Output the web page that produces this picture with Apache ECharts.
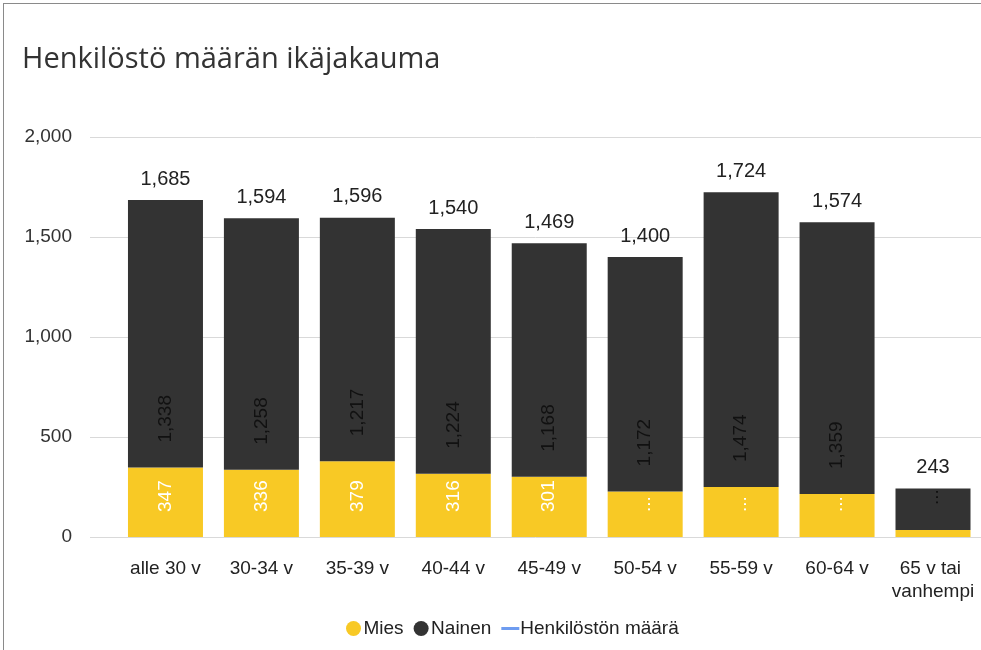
<!DOCTYPE html>
<html>
<head>
<meta charset="utf-8">
<script src="https://cdn.jsdelivr.net/npm/echarts@6/dist/echarts.min.js"></script>
<style>
  html, body { margin: 0; padding: 0; background: #fff; }
  #chart { width: 981px; height: 650px; }
  #frame { position: absolute; left: 3px; top: 3px; width: 990px; height: 660px;
           border-left: 1px solid #8a8a8a; border-top: 1px solid #8a8a8a; pointer-events: none; }
</style>
</head>
<body>
<div id="chart"></div>
<div id="frame"></div>
<script>
// ikäryhmät
var categories = ['alle 30 v', '30-34 v', '35-39 v', '40-44 v', '45-49 v', '50-54 v', '55-59 v', '60-64 v', '65 v tai vanhempi'];
var mies   = [347, 336, 379, 316, 301, 228, 250, 215, 35];
var nainen = [1338, 1258, 1217, 1224, 1168, 1172, 1474, 1359, 208];
var yhteensa = [1685, 1594, 1596, 1540, 1469, 1400, 1724, 1574, 243];
var yTicks = [0, 500, 1000, 1500, 2000];

var font = 'Liberation Sans, Arial, sans-serif';
var fmt = function (v) { return Number(v).toLocaleString('en-US'); };

// Power BI näyttää "..." jos arvo ei mahdu palkkiin
function insideLabel(p) {
  var v = p.value;
  if (v < 100) return '';
  if (v < 295) return '...';
  return fmt(v);
}

var myChart = echarts.init(document.getElementById('chart'));
myChart.setOption({
  animation: false,
  title: {
    text: 'Henkilöstö määrän ikäjakauma',
    left: 17, top: 40,
    textStyle: { fontFamily: 'Open Sans', fontWeight: 'normal', fontSize: 29, color: '#333' }
  },
  legend: {
    bottom: 7, left: 341,
    itemWidth: 18, itemHeight: 15, itemGap: 10,
    textStyle: { fontFamily: font, fontSize: 19, color: '#222', padding: [0, 0, 0, -4] },
    data: [
      { name: 'Mies', icon: 'circle' },
      { name: 'Nainen', icon: 'circle' },
      { name: 'Henkilöstön määrä', icon: 'path://M0,0H18V3H0Z' }
    ]
  },
  grid: [
    { left: 90, right: 0, top: 137, bottom: 113 },
    { left: 117.5, right: 0, top: 137, bottom: 113 }
  ],
  xAxis: [
    { gridIndex: 0, type: 'value', show: false, min: 0, max: 1 },
    {
      gridIndex: 1, type: 'category', data: categories,
      axisLine: { show: false }, axisTick: { show: false },
      axisLabel: { fontFamily: font, fontSize: 19, color: '#222', margin: 20, interval: 0,
                   width: 90, overflow: 'break', lineHeight: 23 }
    }
  ],
  yAxis: [
    {
      gridIndex: 0, type: 'value', min: yTicks[0], max: yTicks[yTicks.length - 1], interval: 500,
      axisLine: { show: false }, axisTick: { show: false },
      axisLabel: { fontFamily: font, fontSize: 19, color: '#333', margin: 18, formatter: fmt },
      splitLine: { lineStyle: { color: '#d9d9d9', width: 1 } }
    },
    { gridIndex: 1, type: 'value', min: 0, max: 2000, show: false, splitLine: { show: false } }
  ],
  series: [
    {
      name: 'Mies', type: 'bar', stack: 'ika', xAxisIndex: 1, yAxisIndex: 1,
      data: mies, barWidth: 75,
      itemStyle: { color: '#F8C925' },
      label: { show: true, position: 'insideBottom', rotate: 90, align: 'left', verticalAlign: 'middle',
               distance: 25, fontFamily: font, fontSize: 19, color: '#fff', formatter: insideLabel }
    },
    {
      name: 'Nainen', type: 'bar', stack: 'ika', xAxisIndex: 1, yAxisIndex: 1,
      data: nainen, barWidth: 75,
      itemStyle: { color: '#333333' },
      label: { show: true, position: 'insideBottom', rotate: 90, align: 'left', verticalAlign: 'middle',
               distance: 25, fontFamily: font, fontSize: 19, color: '#111', formatter: insideLabel }
    },
    {
      name: 'Henkilöstön määrä', type: 'line', xAxisIndex: 1, yAxisIndex: 1,
      data: yhteensa, symbol: 'circle', symbolSize: 0, showSymbol: true,
      itemStyle: { color: '#6E9CF0' },
      lineStyle: { color: '#6E9CF0', opacity: 0 },
      label: { show: true, position: 'top', distance: 11, fontFamily: font, fontSize: 20, color: '#222',
               formatter: function (p) { return fmt(p.value); } }
    }
  ]
});
</script>
</body>
</html>
